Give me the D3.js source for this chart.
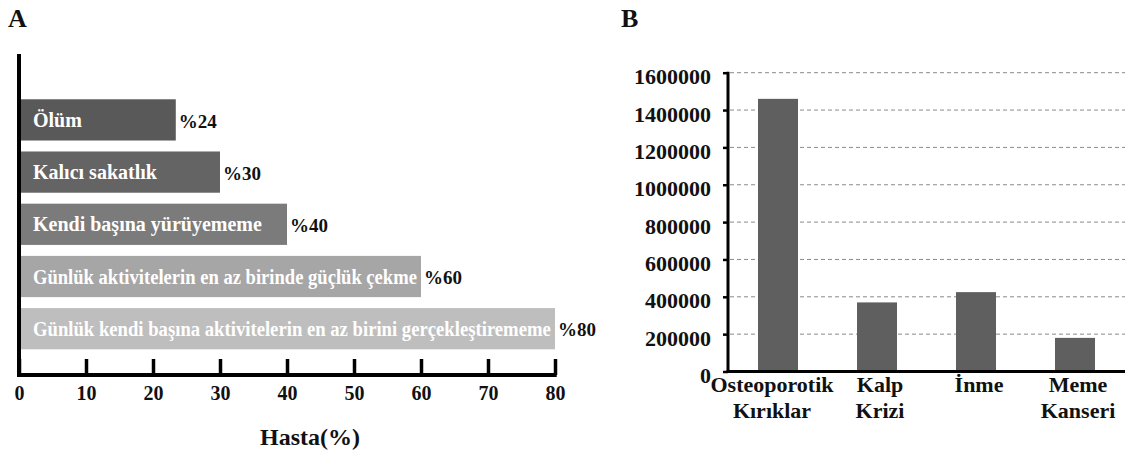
<!DOCTYPE html>
<html>
<head>
<meta charset="utf-8">
<script src="https://cdn.jsdelivr.net/npm/d3@7/dist/d3.min.js"></script>
<style>
  html, body { margin: 0; padding: 0; background: #fff; }
  svg { display: block; }
</style>
</head>
<body>
<svg id="chart" width="1134" height="454"></svg>
<script>
// ---------- Data ----------
const aCategories = [
  "Ölüm",
  "Kalıcı sakatlık",
  "Kendi başına yürüyememe",
  "Günlük aktivitelerin en az birinde güçlük çekme",
  "Günlük kendi başına aktivitelerin en az birini gerçekleştirememe"
];
const aValues = [23.4, 30, 40, 60, 80];
const aValueLabels = ["%24", "%30", "%40", "%60", "%80"];
const aTicks = [0, 10, 20, 30, 40, 50, 60, 70, 80];
const aAxisTitle = "Hasta(%)";

const bCategories = [["Osteoporotik", "Kırıklar"], ["Kalp", "Krizi"], ["İnme"], ["Meme", "Kanseri"]];
const bValues = [1460000, 370000, 425000, 180000];
const bTicks = [0, 200000, 400000, 600000, 800000, 1000000, 1200000, 1400000, 1600000];

const panelLabels = ["A", "B"];

// ---------- Styles ----------
const FONT = "'Liberation Serif', 'Times New Roman', serif";
const aColors = ["#595959", "#646464", "#7b7b7b", "#a6a6a6", "#bebebe"];
const bColor = "#5f5f5f";

const svg = d3.select("#chart");

function serif(sel, size) {
  return sel.style("font-family", FONT).style("font-weight", "bold").style("font-size", size + "px");
}

// ================= Panel A =================
const ax = d3.scaleLinear().domain([0, 80]).range([19, 555]);
const ay = d3.scaleBand().domain(aCategories).range([93.8, 354.8])
  .paddingInner(0.21).paddingOuter(0.105);
const aBase = 375;

const gA = svg.append("g");

gA.selectAll("rect.bar").data(aCategories).join("rect")
  .attr("class", "bar")
  .attr("x", ax(0))
  .attr("y", d => ay(d))
  .attr("width", (d, i) => ax(aValues[i]) - ax(0))
  .attr("height", ay.bandwidth())
  .attr("fill", (d, i) => aColors[i]);

// in-bar labels (condensed horizontally when they would not fit)
gA.selectAll("text.inlabel").data(aCategories).join("text")
  .attr("class", "inlabel")
  .attr("x", 0)
  .attr("y", 0)
  .attr("dy", "0.35em")
  .attr("fill", "#fff")
  .call(serif, 20)
  .text(d => d)
  .each(function (d, i) {
    const x0 = ax(0) + 14;
    const avail = ax(aValues[i]) - x0 - 4;
    const w = this.getComputedTextLength();
    const k = w > avail ? avail / w : 1;
    d3.select(this).attr("transform",
      `translate(${x0},${ay(d) + ay.bandwidth() / 2}) scale(${k},1)`);
  });

// value labels
gA.selectAll("text.vlabel").data(aCategories).join("text")
  .attr("class", "vlabel")
  .attr("x", (d, i) => ax(aValues[i]) + 3)
  .attr("y", d => ay(d) + ay.bandwidth() / 2 + 1)
  .attr("dy", "0.35em")
  .attr("fill", "#111")
  .call(serif, 19)
  .text((d, i) => aValueLabels[i]);

// x axis
const axisA = d3.axisBottom(ax).tickValues(aTicks).tickFormat(d3.format("d"))
  .tickSizeInner(-16).tickSizeOuter(0).tickPadding(11);
const gAx = gA.append("g").attr("transform", `translate(0,${aBase})`).call(axisA);
gAx.select(".domain").remove();
gAx.selectAll(".tick line").attr("stroke", "#000").attr("stroke-width", 3.5);
gAx.selectAll(".tick text").attr("fill", "#111").call(serif, 20);
gA.append("line").attr("x1", ax(0) - 2).attr("x2", ax(80) + 1.7)
  .attr("y1", aBase).attr("y2", aBase).attr("stroke", "#000").attr("stroke-width", 4);
gA.append("line").attr("x1", ax(0)).attr("x2", ax(0))
  .attr("y1", 54).attr("y2", aBase + 2).attr("stroke", "#000").attr("stroke-width", 4);

gA.append("text").attr("x", (ax(0) + ax(80)) / 2 + 23).attr("y", 445)
  .attr("text-anchor", "middle").attr("fill", "#111").call(serif, 24)
  .text(aAxisTitle);

// ================= Panel B =================
const bx = d3.scaleBand().domain(d3.range(bCategories.length)).range([728, 1125])
  .paddingInner(0.596).paddingOuter(0.303);
const by = d3.scaleLinear().domain([0, 1600000]).range([371.5, 72.7]);

const gB = svg.append("g");

// gridlines
gB.selectAll("line.grid").data(bTicks.filter(t => t > 0)).join("line")
  .attr("class", "grid")
  .attr("x1", 730).attr("x2", 1125)
  .attr("y1", d => by(d)).attr("y2", d => by(d))
  .attr("stroke", "#8a8a8a").attr("stroke-width", 1)
  .attr("stroke-dasharray", "4,3");

gB.selectAll("rect.bar").data(bValues).join("rect")
  .attr("class", "bar")
  .attr("x", (d, i) => bx(i))
  .attr("y", d => by(d))
  .attr("width", bx.bandwidth())
  .attr("height", d => by(0) - by(d))
  .attr("fill", bColor);

const axisB = d3.axisLeft(by).tickValues(bTicks).tickFormat(d3.format("d"))
  .tickSizeInner(5).tickSizeOuter(0).tickPadding(12);
const gBy = gB.append("g").attr("transform", "translate(728,0)").call(axisB);
gBy.select(".domain").remove();
gBy.selectAll(".tick line").attr("stroke", "#000").attr("stroke-width", 2.5);
gBy.selectAll(".tick text").attr("fill", "#111").attr("dy", "0.5em").call(serif, 22);
gB.append("line").attr("x1", 728).attr("x2", 728).attr("y1", by(1600000) - 1).attr("y2", by(0) + 1.5)
  .attr("stroke", "#000").attr("stroke-width", 3);
gB.append("line").attr("x1", 726.5).attr("x2", 1125).attr("y1", by(0)).attr("y2", by(0))
  .attr("stroke", "#000").attr("stroke-width", 3);

// category labels
const catG = gB.selectAll("text.cat").data(bCategories).join("text")
  .attr("class", "cat")
  .attr("text-anchor", "middle")
  .attr("fill", "#111")
  .call(serif, 22)
  .attr("transform", (d, i) => `translate(${bx(i) + bx.bandwidth() / 2 + (i === 0 ? -6 : 3)},${by(0) + 20})`);
catG.selectAll("tspan").data(d => d).join("tspan")
  .attr("x", 0)
  .attr("y", (d, j) => j * 26)
  .text(d => d);

// panel letters
svg.append("text").attr("x", 8).attr("y", 27).attr("fill", "#111").call(serif, 26).text(panelLabels[0]);
svg.append("text").attr("x", 621).attr("y", 27).attr("fill", "#111").call(serif, 26).text(panelLabels[1]);
</script>
</body>
</html>
